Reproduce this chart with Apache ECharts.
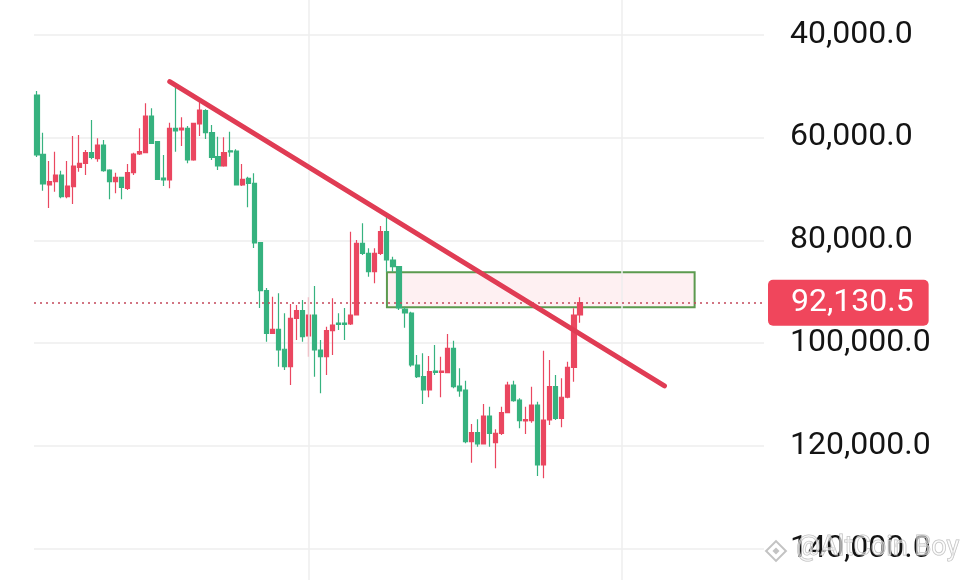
<!DOCTYPE html>
<html><head><meta charset="utf-8">
<script src="https://cdn.jsdelivr.net/npm/echarts@6/dist/echarts.min.js"></script>
<style>html,body{margin:0;padding:0;background:#fff}#c{width:960px;height:580px}</style>
</head><body><div id="c"></div>
<script>
// candle slots (91 traded + empty right-hand space)
const categories = Array.from({length: 121}, (_, i) => 'C' + (i + 1));
// [open, close, low, high]
const candles = [
 [51760,63420,50980,63810],[63280,69060,59090,70360],[69250,68610,64590,73720],[68610,67310,62780,70550],
 [67310,71530,66470,71840],[71530,69450,64590,71840],[69580,65560,59730,72940],[65810,65030,59530,66670],
 [65030,62970,62450,67310],[62970,63870,56620,64260],[64140,61480,60180,64720],[61480,66470,60510,66670],
 [66340,68610,66200,72030],[68610,67760,66860,70860],[67760,69700,67640,72030],[69890,66860,65170,70220],
 [66860,63230,62970,67310],[63230,62780,58230,63420],[62970,55840,53370,63090],[55840,61150,54340,61280],
 [60840,68140,60700,68280],[67890,68280,63420,69450],[68280,58230,57140,69890],[58230,58760,49820,62780],
 [58560,58170,56090,61670],[58230,64390,57780,65030],[64390,57260,57140,64530],[57400,54670,53060,59730],
 [54810,59090,54540,60310],[59090,63870,57590,64390],[63750,65560,59860,66340],[65560,62970,59980,65690],
 [62590,62840,58890,63750],[62640,69250,62310,69250],[69250,68140,65170,69450],[67950,68920,67640,73590],
 [68920,80520,66980,81500],[80470,89800,80330,93160],[89800,98080,89270,99710],[98080,97300,90960,98080],
 [97300,101320,90300,104570],[101180,104570,94190,105210],[104570,95160,92380,108120],[95160,93680,92570,99380],
 [93680,98740,91600,99710],[98600,94520,91080,102620],[94520,101320,88880,106510],[101320,102620,99380,109740],
 [102620,97570,96790,106180],[97570,96460,91270,102290],[96070,96360,94190,97430],[96070,96360,93160,99380],
 [96270,94520,78330,96460],[94520,80580,79940,94520],[80580,82530,76700,82860],[82530,86100,81550,87070],
 [86100,82530,81550,88360],[82530,78330,77220,82860],[78330,83830,75410,86100],[83830,85130,83190,86100],
 [85130,93160,84990,93550],[93350,94130,92900,97000],[94130,104240,93880,104570],[104240,106510,102290,106760],
 [106510,109100,101960,111820],[109100,105540,102490,110510],[105400,105690,100350,106180],[105690,105400,102620,110510],
 [105730,100990,98210,105850],[100990,108450,99510,108770],[108320,109290,104880,110400],[109100,119140,107290,119450],
 [119140,117390,115700,123230],[117390,119590,114790,120120],[119590,114150,111820,119590],[114150,117510,112340,120120],
 [119340,117510,116730,124310],[117510,113510,112340,117840],[113510,108120,107480,113620],[108120,111170,107290,111370],
 [111040,115060,110710,116540],[115120,114830,112340,117650],[115060,112010,108450,115450],[112010,123670,111370,125810],
 [123670,114930,101460,126260],[114930,108450,103260,115900],[108450,114600,106180,114930],[114600,110510,106820,116340],
 [110510,104680,103600,110710],[104680,94520,93220,107480],[94520,92130.5,91080,96010]
];
const yMin = 40000, yMax = 140000, yStep = 20000;
const lastPrice = 92130.5;
const trendLine = [[22, 49170], [104, 108290]];
const zoneX = [58, 109];
const zoneY = [86220, 93020];
const timeSeparators = [45, 97];

const GREEN = '#36b27f', RED = '#ea4760';
const fmt = v => Number(v).toLocaleString('en-US', {minimumFractionDigits: 1, maximumFractionDigits: 1});

const chart = echarts.init(document.getElementById('c'));
chart.setOption({
  animation: false,
  backgroundColor: '#ffffff',
  textStyle: {fontFamily: 'Roboto'},
  grid: [
    {left: 34, right: 196, top: 34.5, bottom: 31},
    {left: 34, right: 196, top: 0, bottom: 0}
  ],
  xAxis: [
    {type: 'category', data: categories, boundaryGap: true, axisLine: {show: false}, axisTick: {show: false},
     axisLabel: {show: false}, splitLine: {show: false}},
    {type: 'category', gridIndex: 1, data: categories, show: false}
  ],
  yAxis: [
    {type: 'value', inverse: true, position: 'right', min: yMin, max: yMax, interval: yStep,
     axisLine: {show: false}, axisTick: {show: false},
     axisLabel: {margin: 26, fontSize: 32, color: '#141414', fontFamily: 'Roboto', formatter: v => fmt(v),
                 verticalAlign: 'middle', padding: [0, 0, 5, 0]},
     splitLine: {lineStyle: {color: '#eeeeee', width: 1.5}}},
    {type: 'value', gridIndex: 1, min: 0, max: 1, show: false}
  ],
  series: [
    {type: 'line', xAxisIndex: 1, yAxisIndex: 1, data: [], z: 0, silent: true,
     markLine: {silent: true, symbol: 'none', label: {show: false},
       lineStyle: {color: '#eeeeee', width: 1.5, type: 'solid'},
       data: timeSeparators.map(i => ({xAxis: i}))}},
    {type: 'line', data: [], z: 1, silent: true,
     markArea: {silent: true,
       itemStyle: {color: 'rgba(246,70,93,0.08)', borderColor: '#5c9a4f', borderWidth: 2},
       data: [[{xAxis: zoneX[0], yAxis: zoneY[0]}, {xAxis: zoneX[1], yAxis: zoneY[1]}]]}},
    {type: 'candlestick', data: candles, z: 3, barWidth: 4.6,
     itemStyle: {color: GREEN, color0: RED, borderColor: GREEN, borderColor0: RED, borderWidth: 1.2}},
    {type: 'line', data: [], z: 4, silent: true,
     markLine: {silent: true, symbol: 'none',
       lineStyle: {color: '#c4475a', width: 1.5, type: [2, 4]},
       label: {position: 'end', distance: 4, formatter: p => fmt(p.value), color: '#ffffff', fontSize: 32,
               fontFamily: 'Roboto', backgroundColor: '#f0465c', padding: [7, 15, 7, 23], borderRadius: 5},
       data: [{yAxis: lastPrice}]}},
    {type: 'line', data: trendLine, z: 5, symbol: 'none', silent: true,
     lineStyle: {color: '#e03c54', width: 5, cap: 'round'}}
  ],
  graphic: [
    {type: 'group', x: 776, y: 551, z: 100, children: [
      {type: 'rect', shape: {x: -7, y: -7, width: 14, height: 14}, rotation: Math.PI / 4,
       style: {fill: 'rgba(255,255,255,0.5)', stroke: 'rgba(185,185,185,0.85)', lineWidth: 2}},
      {type: 'rect', shape: {x: -2.5, y: -2.5, width: 5, height: 5}, rotation: Math.PI / 4,
       style: {fill: 'rgba(185,185,185,0.85)'}}
    ]},
    {type: 'text', x: 796, y: 535, z: 100,
     style: {text: '@AltCoin Boy', fontSize: 27, fontFamily: 'Roboto', fill: 'rgba(255,255,255,0.55)',
             stroke: 'rgba(175,175,175,0.85)', lineWidth: 1}}
  ]
});
</script></body></html>
